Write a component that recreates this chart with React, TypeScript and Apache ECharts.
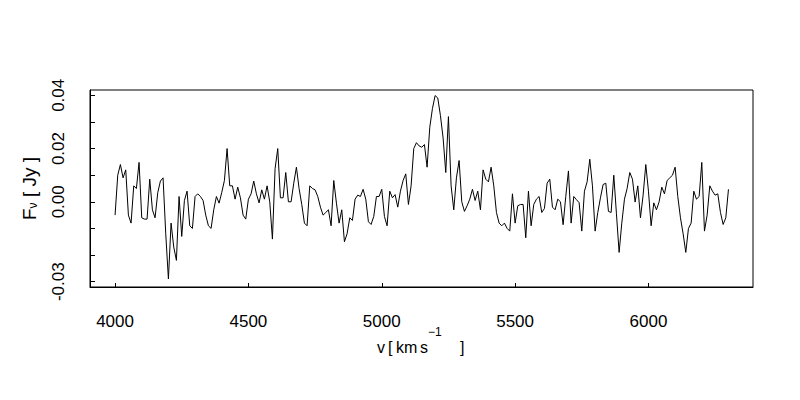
import React, { useEffect, useRef } from "react";
import * as echarts from "echarts";

// Spectrum: channel velocities (km/s) and flux density (Jy)
const V_START = 4000;
const V_STEP = 10;
const flux: number[] = [
  -0.005, 0.010, 0.014, 0.009, 0.012, -0.005, -0.008, 0.006, 0.005, 0.0148,
  -0.006, -0.0065, -0.0065, 0.0085, -0.003, -0.006, 0.0034, 0.0078, 0.009, -0.012,
  -0.029, -0.008, -0.017, -0.022, 0.002, -0.013, 0.0005, 0.004, -0.009, -0.010,
  0.002, 0.003, 0.002, 0.0005, -0.005, -0.009, -0.010, -0.003, 0.002, -0.0005,
  0.0035, 0.008, 0.020, 0.006, 0.006, 0.001, 0.0055, 0.0015, -0.005, -0.0065,
  0.001, 0.003, 0.0078, 0.003, -0.0004, 0.0045, 0.001, 0.006, 0.000, -0.014,
  0.0125, 0.020, 0.0015, 0.0015, 0.011, 0.000, 0.000, 0.007, 0.013, 0.005,
  -0.001, -0.008, -0.009, 0.006, 0.005, 0.0045, 0.002, -0.002, -0.005, -0.004,
  -0.003, -0.009, 0.008, -0.0005, -0.008, -0.003, -0.015, -0.012, -0.006, -0.007,
  0.001, 0.0025, 0.002, 0.0047, 0.001, -0.0075, -0.0085, -0.0055, 0.002, 0.002,
  0.0047, -0.0055, -0.009, 0.004, 0.0015, 0.0027, -0.002, 0.004, 0.008, 0.0105,
  -0.001, 0.006, 0.020, 0.0222, 0.021, 0.0205, 0.0215, 0.013, 0.028, 0.035,
  0.0399, 0.039, 0.0324, 0.024, 0.011, 0.032, 0.006, -0.003, 0.009, 0.0155,
  0.000, -0.0036, -0.0015, 0.001, 0.0047, 0.0005, 0.004, -0.003, 0.012, 0.0085,
  0.0075, 0.013, 0.006, -0.004, -0.008, -0.009, -0.008, -0.010, -0.011, 0.003,
  -0.008, -0.0015, -0.001, -0.001, -0.0135, 0.004, -0.009, -0.001, 0.001, 0.002,
  -0.004, -0.0025, 0.007, 0.0085, -0.002, -0.003, 0.001, 0.000, -0.0086, 0.002,
  0.0116, -0.008, 0.002, 0.0008, -0.0003, -0.011, 0.004, 0.0075, 0.016, 0.006,
  -0.011, -0.004, 0.0015, 0.0065, 0.007, -0.0036, -0.004, 0.010, -0.0045, -0.019,
  -0.008, 0.001, 0.005, 0.011, 0.0085, -0.0001, 0.006, -0.006, 0.0025, 0.014,
  0.004, -0.009, -0.0004, -0.003, 0.000, 0.0055, 0.003, 0.008, 0.009, 0.010,
  0.013, 0.002, -0.006, -0.012, -0.019, -0.010, -0.008, 0.004, 0.001, 0.002,
  0.0148, -0.011, -0.005, 0.006, 0.004, 0.0025, 0.003, -0.004, -0.0085, -0.006,
  0.0047,
];
const velocity: number[] = flux.map((_, i) => V_START + i * V_STEP);

const xTicks = [4000, 4500, 5000, 5500, 6000];
const yTicks = [-0.03, -0.02, -0.01, 0, 0.01, 0.02, 0.03, 0.04];
const yLabels = [-0.03, 0, 0.02, 0.04];

const FAMILY = "Liberation Sans";

function measure(text: string, size: number): number {
  const c = document.createElement("canvas").getContext("2d");
  if (!c) return text.length * size * 0.5;
  c.font = `${size}px "${FAMILY}"`;
  return c.measureText(text).width;
}

export default function App() {
  const ref = useRef<HTMLDivElement>(null);

  useEffect(() => {
    if (!ref.current) return;
    const chart = echarts.init(ref.current, null, { renderer: "svg" });

    const gridL = 90, gridT = 90, gridW = 663, gridH = 197;
    const big = 19, mid = 16, small = 12;

    const txt = (text: string, x: number, y: number, size: number) => ({
      type: "text",
      x,
      y,
      style: {
        text,
        fill: "#000",
        fontSize: size,
        fontFamily: FAMILY,
        textAlign: "left",
        textVerticalAlign: "middle",
        verticalAlign: "middle",
      },
    });

    // x-axis title: v [ km s^-1 ]  (pieces placed like the reference)
    const xMid = 347;
    const xTitle = [
      txt("v", 377, xMid, mid),
      txt("[", 388, xMid, mid),
      txt("km", 396, xMid, mid),
      txt("s", 420, xMid, mid),
      txt("\u22121", 428, 332, small),
      txt("]", 460, xMid, mid),
    ];

    // y-axis title: F_nu [ Jy ]
    const ya = "F", yb = "\u03bd", yc = " [ Jy ]";
    const ua = measure(ya, big), ub = measure(yb, small), uc = measure(yc, big);
    const yTot = ua + ub + uc;
    const y0 = -yTot / 2;

    chart.setOption({
      animation: false,
      backgroundColor: "#fff",
      grid: {
        left: gridL,
        top: gridT,
        width: gridW,
        height: gridH,
        show: true,
        borderColor: "#000",
        borderWidth: 1,
        backgroundColor: "transparent",
      },
      xAxis: {
        type: "value",
        min: 3906,
        max: 6392,
        axisLine: { show: true, onZero: false, lineStyle: { color: "#000", width: 1 } },
        axisTick: {
          show: true,
          inside: true,
          length: 4,
          customValues: xTicks,
          lineStyle: { color: "#000", width: 1 },
        },
        axisLabel: {
          show: true,
          customValues: xTicks,
          fontSize: 17,
          fontFamily: FAMILY,
          color: "#000",
          margin: 26,
          formatter: (v: number) => String(v),
        },
        splitLine: { show: false },
      },
      yAxis: {
        type: "value",
        min: -0.032,
        max: 0.042,
        axisLine: { show: true, onZero: false, lineStyle: { color: "#000", width: 1 } },
        axisTick: {
          show: true,
          inside: true,
          length: 5,
          customValues: yTicks,
          lineStyle: { color: "#000", width: 1 },
        },
        axisLabel: {
          show: true,
          customValues: yLabels,
          rotate: 90,
          fontSize: 17,
          fontFamily: FAMILY,
          color: "#000",
          margin: 23,
          formatter: (v: number) => v.toFixed(2),
        },
        splitLine: { show: false },
      },
      graphic: [
        ...xTitle,
        {
          type: "group",
          x: 0,
          y: gridT + gridH / 2,
          rotation: Math.PI / 2,
          children: [
            txt(ya, y0, 29, big),
            txt(yb, y0 + ua, 33, small),
            txt(yc, y0 + ua + ub, 29, big),
          ],
        },
      ],
      series: [
        {
          type: "line",
          data: velocity.map((v, i) => [v, flux[i]]),
          showSymbol: false,
          symbol: "none",
          lineStyle: { color: "#000", width: 1 },
          itemStyle: { color: "#000" },
          silent: true,
        },
      ],
    });

    return () => chart.dispose();
  }, []);

  return (
    <div
      ref={ref}
      style={{ position: "fixed", left: 0, top: 0, width: 800, height: 400, background: "#fff" }}
    />
  );
}
